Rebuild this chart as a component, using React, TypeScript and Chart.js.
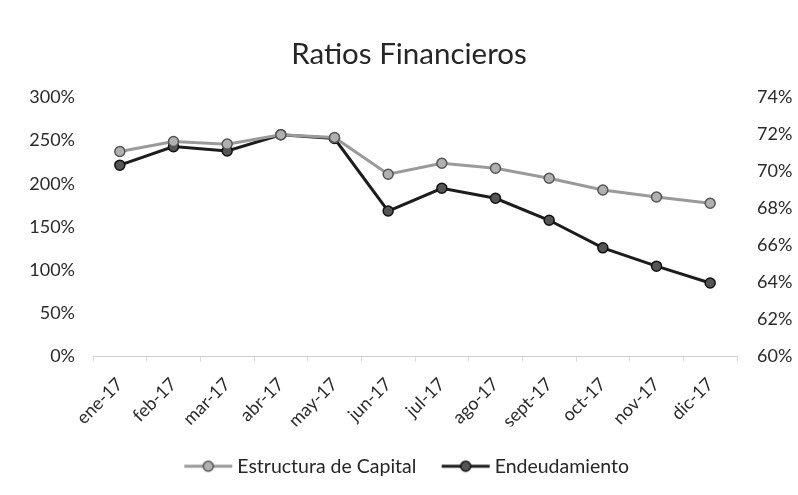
import React, { useEffect, useRef } from 'react';
import { Chart, registerables } from 'chart.js';

Chart.register(...registerables);

const categories = ['ene-17', 'feb-17', 'mar-17', 'abr-17', 'may-17', 'jun-17', 'jul-17', 'ago-17', 'sept-17', 'oct-17', 'nov-17', 'dic-17'];
const estructuraCapital = [237.3, 248.9, 245.9, 256.7, 253.5, 211.0, 223.8, 218.0, 206.4, 192.8, 184.7, 177.4];
const endeudamiento = [70.34, 71.34, 71.11, 71.98, 71.78, 67.86, 69.09, 68.55, 67.36, 65.87, 64.88, 63.97];
const leftTicks = [0, 50, 100, 150, 200, 250, 300];
const rightTicks = [60, 62, 64, 66, 68, 70, 72, 74];

const FONT = 'Lato, "Open Sans", sans-serif';

function makeIcon(line: string, fill: string, border: string) {
  const c = document.createElement('canvas');
  c.width = 50;
  c.height = 14;
  const ctx = c.getContext('2d')!;
  ctx.strokeStyle = line;
  ctx.lineWidth = 3;
  ctx.beginPath();
  ctx.moveTo(1, 7);
  ctx.lineTo(49, 7);
  ctx.stroke();
  ctx.beginPath();
  ctx.arc(25, 7, 5, 0, Math.PI * 2);
  ctx.fillStyle = fill;
  ctx.fill();
  ctx.strokeStyle = border;
  ctx.lineWidth = 1.5;
  ctx.stroke();
  return c;
}

export default function App() {
  const ref = useRef<HTMLCanvasElement | null>(null);
  useEffect(() => {
    if (!ref.current) return;
    const icons = [
      makeIcon('#9a9a9a', '#b0b0b0', '#555555'),
      makeIcon('#1c1c1c', '#555555', '#111111'),
    ];
    const chart = new Chart(ref.current, {
      type: 'line',
      data: {
        labels: categories,
        datasets: [
          {
            label: 'Estructura de Capital',
            data: estructuraCapital,
            yAxisID: 'y',
            borderColor: '#9a9a9a',
            borderWidth: 3,
            pointRadius: 5,
            pointBackgroundColor: '#b0b0b0',
            pointBorderColor: '#555555',
            pointBorderWidth: 1.5,
            tension: 0,
          },
          {
            label: 'Endeudamiento',
            data: endeudamiento,
            yAxisID: 'y1',
            borderColor: '#1c1c1c',
            borderWidth: 3,
            pointRadius: 5,
            pointBackgroundColor: '#555555',
            pointBorderColor: '#111111',
            pointBorderWidth: 1.5,
            tension: 0,
          },
        ],
      },
      options: {
        responsive: false,
        animation: false,
        layout: { padding: { left: 20, right: 0, top: 0, bottom: 9 } },
        plugins: {
          title: {
            display: true,
            text: 'Ratios Financieros',
            color: '#262626',
            font: { family: FONT, size: 29.5, weight: 'normal' },
            padding: { top: 37, bottom: 25 },
          },
          legend: {
            position: 'bottom',
            labels: {
              usePointStyle: true,
              pointStyleWidth: 38.5,
              padding: 30,
              color: '#262626',
              font: { family: FONT, size: 19.5 },
              generateLabels: (ch: any) => {
                const items = Chart.defaults.plugins.legend.labels.generateLabels(ch);
                return items.map((it: any, i: number) => ({ ...it, pointStyle: icons[i] }));
              },
            },
          },
          tooltip: { enabled: false },
        },
        scales: {
          x: {
            offset: true,
            grid: { display: true, drawOnChartArea: false, color: '#d9d9d9', tickLength: 5, offset: true },
            border: { display: true, color: '#d0d0d0' },
            ticks: {
              color: '#2a2a2a',
              font: { family: FONT, size: 18 },
              minRotation: 45,
              maxRotation: 45,
              autoSkip: false,
              padding: 12,
            },
            afterFit: (s: any) => { s.height = 70; },
          },
          y: {
            position: 'left',
            min: 0,
            max: 300,
            afterBuildTicks: (s: any) => { s.ticks = leftTicks.map((v) => ({ value: v })); },
            grid: { display: false, drawTicks: false },
            border: { display: false },
            ticks: {
              color: '#2a2a2a',
              font: { family: FONT, size: 18 },
              padding: 18,
              callback: (v: any) => v + '%',
            },
            afterFit: (s: any) => { s.width = 73; },
          },
          y1: {
            position: 'right',
            min: 60,
            max: 74,
            afterBuildTicks: (s: any) => { s.ticks = rightTicks.map((v) => ({ value: v })); },
            grid: { display: false, drawTicks: false },
            border: { display: false },
            ticks: {
              color: '#2a2a2a',
              font: { family: FONT, size: 18 },
              padding: 20,
              callback: (v: any) => v + '%',
            },
            afterFit: (s: any) => { s.width = 61; },
          },
        },
      },
    });
    return () => chart.destroy();
  }, []);
  return (
    <div style={{ position: 'fixed', left: 0, top: 0, width: 798, height: 495, background: '#fff' }}>
      <canvas ref={ref} width={798} height={495} />
    </div>
  );
}
